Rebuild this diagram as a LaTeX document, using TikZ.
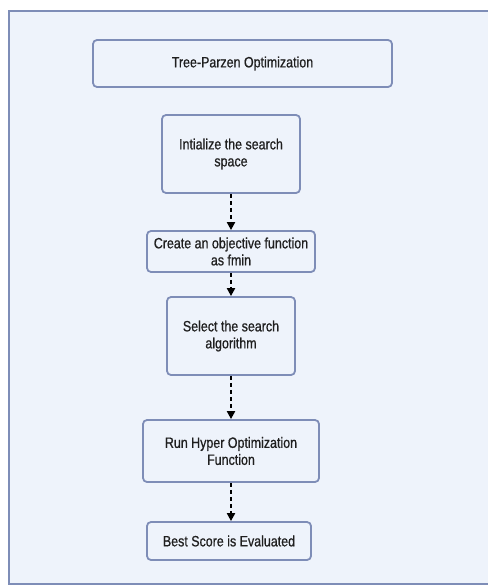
\documentclass[tikz,border=0pt]{standalone}
\usepackage{fontspec}
\setmainfont[FakeStretch=0.83,FakeBold=0.7]{Liberation Sans}
\usetikzlibrary{arrows.meta}
\definecolor{bgc}{HTML}{EEF3FB}
\definecolor{edc}{HTML}{7E8DB7}
\begin{document}
\begin{tikzpicture}[x=1pt,y=-1pt,
  box/.style={draw=edc,line width=1.8pt,rounded corners=4pt,fill=bgc,align=center,font=\fontsize{15}{17}\selectfont,text=black!88,inner sep=0pt},
  flow/.style={draw=black,line width=2pt,dash pattern=on 4pt off 3pt,-{Triangle[length=8pt,width=8pt]}}]
\useasboundingbox (0,0) rectangle (487,585);
\fill[white] (0,0) rectangle (487,585);
\draw[edc,line width=2pt,fill=bgc] (9,11) rectangle (492,583.5);
\node[box,minimum width=299pt,minimum height=47pt] (t) at (242.5,63.5) {Tree-Parzen Optimization};
\node[box,minimum width=138pt,minimum height=78pt] (a) at (231,154) {Intialize the search\\space};
\node[box,minimum width=168pt,minimum height=41pt] (b) at (231,251.5) {Create an objective function\\as fmin};
\node[box,minimum width=128pt,minimum height=78pt] (c) at (231,336) {Select the search\\algorithm};
\node[box,minimum width=176pt,minimum height=62pt] (d) at (231,451) {Run Hyper Optimization\\Function};
\node[box,minimum width=164pt,minimum height=38pt] (e) at (229,541) {Best Score is Evaluated};
\draw[flow] (a.south) -- (b.north);
\draw[flow] (b.south) -- (c.north);
\draw[flow] (c.south) -- (d.north);
\draw[flow] (d.south) -- (d.south |- e.north);
\end{tikzpicture}
\end{document}
